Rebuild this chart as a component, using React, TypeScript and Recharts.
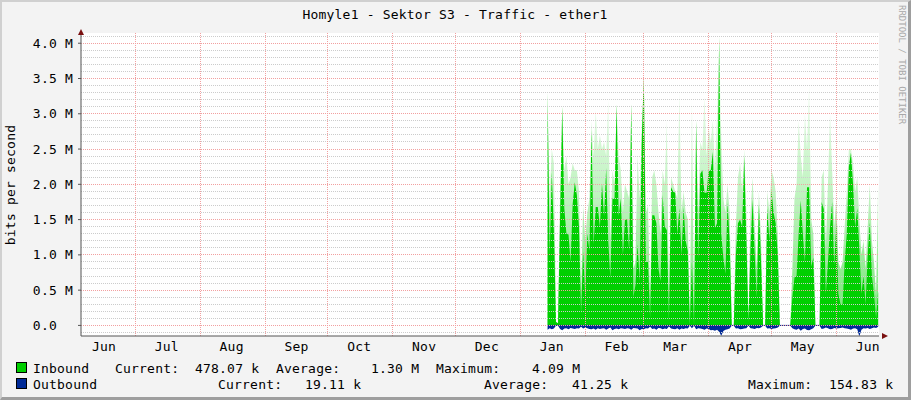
import { ComposedChart, Area, XAxis, YAxis, CartesianGrid, ReferenceLine } from 'recharts'

const FONT = '"DejaVu Sans Mono", monospace'
const GREEN = '#00cf00'
const BLUE = '#002a97'

// days are counted from 5 Jun (left edge of the plot); one value per day from 13 Jan
const START_DAY = 223
const END_DAY = 381.4

// inbound, M bit/s (solid part)
const inbound = [
  3.30, 1.00, 2.17, 1.35, 0.05, 0.03, 1.56, 3.10, 1.66, 1.30,
  1.29, 0.90, 1.72, 2.03, 1.85, 1.40, 0.17, 1.05, 0.40, 1.30,
  1.06, 2.77, 1.15, 1.68, 1.68, 1.40, 2.01, 1.55, 2.23, 1.20,
  0.67, 1.80, 1.80, 3.13, 1.55, 1.80, 1.00, 1.50, 1.50, 1.06,
  3.15, 0.40, 0.57, 1.15, 0.63, 2.62, 3.53, 0.90, 0.90, 0.10,
  1.56, 1.56, 1.45, 0.80, 0.63, 1.85, 1.40, 1.35, 0.06, 1.96,
  1.90, 1.88, 1.30, 1.66, 1.00, 1.67, 1.20, 1.05, 0.00, 0.90,
  0.00, 2.90, 0.95, 2.15, 2.20, 1.88, 1.88, 2.20, 2.20, 2.46,
  1.38, 1.45, 4.09, 1.30, 0.96, 0.73, 1.74, 1.20, 0.00, 0.00,
  1.00, 1.45, 1.50, 1.40, 2.40, 1.20, 0.05, 1.10, 1.78, 1.00,
  0.40, 1.72, 0.90, 0.00, 0.00, 1.66, 1.20, 1.93, 1.60, 1.45,
  1.00, 0.00, 0.00, 0.00, 0.00, 0.00, 0.00, 0.40, 0.68, 0.70,
  1.30, 1.77, 1.30, 0.90, 1.96, 1.96, 0.83, 0.96, 0.00, 0.00,
  0.00, 1.75, 1.65, 0.45, 0.90, 1.40, 1.75, 0.85, 1.47, 0.45,
  0.30, 0.30, 0.90, 1.30, 2.25, 2.45, 2.00, 1.40, 1.66, 1.10,
  0.45, 0.70, 0.30, 1.00, 1.46, 0.70, 0.45, 0.10, 0.48,
]

// short bursts seen as the faded tops above the solid area, M bit/s
const inboundBurst = [
  3.30, 1.80, 2.50, 2.30, 0.05, 0.03, 1.90, 3.10, 2.20, 2.40,
  2.00, 2.10, 2.30, 2.20, 2.20, 1.90, 0.40, 1.70, 1.20, 1.60,
  1.80, 2.90, 2.40, 3.05, 2.50, 2.70, 2.50, 2.60, 2.40, 3.20,
  1.20, 2.20, 2.00, 3.13, 2.40, 2.20, 1.60, 2.00, 1.90, 1.80,
  3.15, 0.80, 0.90, 2.40, 1.80, 2.80, 3.53, 1.60, 1.70, 0.30,
  2.10, 2.20, 2.00, 1.60, 1.30, 2.20, 2.00, 2.90, 0.30, 2.10,
  2.00, 1.90, 1.80, 3.30, 1.60, 1.90, 1.60, 1.50, 0.00, 3.20,
  0.00, 2.90, 1.60, 2.60, 2.50, 3.24, 2.40, 2.80, 2.60, 2.90,
  2.20, 3.00, 4.09, 2.70, 1.80, 1.60, 2.00, 1.60, 0.00, 0.00,
  1.40, 2.10, 2.30, 1.90, 2.50, 1.60, 0.05, 1.60, 2.10, 1.40,
  0.80, 1.90, 1.20, 0.00, 0.00, 1.90, 1.60, 2.20, 2.10, 1.90,
  1.30, 0.00, 0.00, 0.00, 0.00, 0.00, 0.00, 0.80, 1.80, 2.00,
  2.90, 2.40, 2.10, 3.00, 2.50, 3.40, 1.50, 1.30, 0.00, 0.00,
  0.00, 2.10, 2.20, 1.10, 2.00, 3.00, 2.20, 1.40, 1.80, 0.90,
  0.80, 0.90, 1.40, 1.90, 2.50, 2.50, 2.30, 1.90, 2.10, 1.50,
  1.00, 1.20, 0.80, 1.40, 2.00, 1.20, 0.90, 0.40, 2.00,
]

// outbound, k bit/s (drawn below zero)
const outboundK = [
  60, 40, 55, 45, 3, 3, 50, 70, 45, 40,
  55, 35, 45, 50, 40, 45, 20, 45, 30, 40,
  50, 55, 45, 60, 40, 50, 45, 40, 60, 45,
  30, 70, 50, 45, 55, 40, 45, 50, 40, 45,
  60, 35, 40, 45, 70, 50, 55, 40, 45, 20,
  50, 45, 60, 35, 40, 55, 45, 50, 15, 45,
  50, 55, 40, 60, 45, 50, 40, 45, 5, 40,
  5, 55, 40, 45, 50, 60, 45, 50, 70, 65,
  75, 60, 90, 145, 80, 60, 55, 45, 3, 3,
  45, 40, 55, 50, 45, 40, 5, 40, 45, 50,
  35, 40, 30, 3, 3, 45, 40, 50, 45, 40,
  30, 3, 3, 3, 3, 3, 3, 40, 55, 60,
  45, 75, 50, 45, 65, 70, 55, 40, 3, 3,
  3, 50, 45, 30, 40, 55, 50, 35, 45, 40,
  35, 30, 40, 45, 50, 60, 45, 40, 55, 155,
  60, 40, 45, 35, 50, 40, 30, 35, 19,
]

const monthLabels = ['Jun', 'Jul', 'Aug', 'Sep', 'Oct', 'Nov', 'Dec', 'Jan', 'Feb', 'Mar', 'Apr', 'May', 'Jun']
const monthMidDays = [11, 41, 72, 103, 133, 164, 194, 225, 256, 284, 315, 345, 376]
const monthStartDays = [26, 57, 88, 118, 149, 179, 210, 241, 269, 300, 330, 361]
const yTicks = [0, 0.5, 1.0, 1.5, 2.0, 2.5, 3.0, 3.5, 4.0]

const minorY: number[] = []
for (let k = -1; k <= 41; k++) if (k % 5 !== 0) minorY.push(k / 10)

const rows = inbound.map((v, i) => ({
  day: START_DAY + i,
  inbound: v,
  burst: inboundBurst[i],
  outbound: -outboundK[i] / 1000,
}))

const labelByDay: Record<number, string> = {}
monthMidDays.forEach((d, i) => { labelByDay[d] = monthLabels[i] })

const txt = { fontFamily: FONT, fontSize: 13, letterSpacing: 0.2, fill: '#000' }
const MAJOR = '#f2a0a0'
const MINOR = '#cccccc'

export default function App() {
  return (
    <div style={{ position: 'fixed', left: 0, top: 0, width: 911, height: 400, background: '#f3f3f3', overflow: 'hidden' }}>
      <ComposedChart width={911} height={400} data={rows} margin={{ top: 33, right: 32, bottom: 0, left: 0 }}>
        <defs>
          <linearGradient id="haze" x1="0" y1="1" x2="0" y2="0">
            <stop offset="0%" stopColor={GREEN} stopOpacity={0.55} />
            <stop offset="45%" stopColor={GREEN} stopOpacity={0.25} />
            <stop offset="100%" stopColor={GREEN} stopOpacity={0} />
          </linearGradient>
        </defs>
        <CartesianGrid fill="#fff" horizontal={false} vertical={false} />
        <XAxis type="number" dataKey="day" domain={[0, END_DAY]} ticks={monthMidDays} interval={0}
          tickFormatter={(d: number) => labelByDay[d] || ''} tickLine={false} tickSize={4} tickMargin={2}
          height={64} axisLine={{ stroke: '#555' }} tick={txt} allowDataOverflow />
        <YAxis type="number" domain={[-0.15, 4.145]} ticks={yTicks} width={81} allowDataOverflow
          tickFormatter={(v: number) => (v === 0 ? '0.0\u00a0\u00a0' : `${v.toFixed(1)} M`)}
          tickSize={3} tickMargin={5} tickLine={{ stroke: '#555' }} axisLine={{ stroke: '#555' }} tick={txt} />
        <Area dataKey="burst" type="linear" fill="url(#haze)" stroke="none" fillOpacity={1} isAnimationActive={false} />
        <Area dataKey="inbound" type="linear" fill={GREEN} stroke="none" fillOpacity={1} isAnimationActive={false} />
        <Area dataKey="outbound" type="linear" fill={BLUE} stroke="none" fillOpacity={1} isAnimationActive={false} />
        <ReferenceLine segment={[{ x: START_DAY, y: 0 }, { x: rows[rows.length - 1].day, y: 0 }]} stroke={BLUE} strokeWidth={1} />
        {minorY.map((v) => (
          <ReferenceLine key={'m' + v} y={v} stroke={MINOR} strokeDasharray="1 1" shapeRendering="crispEdges" />
        ))}
        {yTicks.map((v) => (
          <ReferenceLine key={'M' + v} y={v} stroke={MAJOR} strokeDasharray="1 1" shapeRendering="crispEdges" />
        ))}
        {monthStartDays.map((d) => (
          <ReferenceLine key={'v' + d} x={d} stroke={MAJOR} strokeDasharray="1 1" shapeRendering="crispEdges" />
        ))}
      </ComposedChart>
      <svg width={911} height={400} style={{ position: 'absolute', left: 0, top: 0, pointerEvents: 'none' }}>
        <text x={455} y={19} textAnchor="middle" style={txt}>Homyle1 - Sektor S3 - Traffic - ether1</text>
        <text x={15} y={185} textAnchor="middle" transform="rotate(-90 15 185)" style={txt}>bits per second</text>
        <text x={899} y={5} transform="rotate(90 899 5)" style={{ fontFamily: FONT, fontSize: 9, fill: '#a8a8a8' }}>RRDTOOL / TOBI OETIKER</text>
        <polygon points="81,29 78,35 84,35" fill="#7a1010" />
        <polygon points="888,336 882,333 882,339" fill="#7a1010" />
        <rect x={16.5} y={362.5} width={10} height={10} fill={GREEN} stroke="#000" />
        <rect x={16.5} y={378.5} width={10} height={10} fill={BLUE} stroke="#000" />
        <text x={33} y={372.5} style={txt}>Inbound</text>
        <text x={115} y={372.5} style={txt}>Current:</text>
        <text x={195} y={372.5} style={txt}>478.07 k</text>
        <text x={276} y={372.5} style={txt}>Average:</text>
        <text x={371} y={372.5} style={txt}>1.30 M</text>
        <text x={436} y={372.5} style={txt}>Maximum:</text>
        <text x={532} y={372.5} style={txt}>4.09 M</text>
        <text x={33} y={388.5} style={txt}>Outbound</text>
        <text x={218} y={388.5} style={txt}>Current:</text>
        <text x={305} y={388.5} style={txt}>19.11 k</text>
        <text x={484} y={388.5} style={txt}>Average:</text>
        <text x={572} y={388.5} style={txt}>41.25 k</text>
        <text x={748} y={388.5} style={txt}>Maximum:</text>
        <text x={829} y={388.5} style={txt}>154.83 k</text>
      </svg>
      <div style={{ position: 'absolute', left: 0, top: 0, width: 911, height: 400, boxSizing: 'border-box',
        borderTop: '2px solid #d0d0d0', borderLeft: '2px solid #d0d0d0', borderRight: '3px solid #9e9e9e', borderBottom: '3px solid #9e9e9e', pointerEvents: 'none' }} />
    </div>
  )
}
